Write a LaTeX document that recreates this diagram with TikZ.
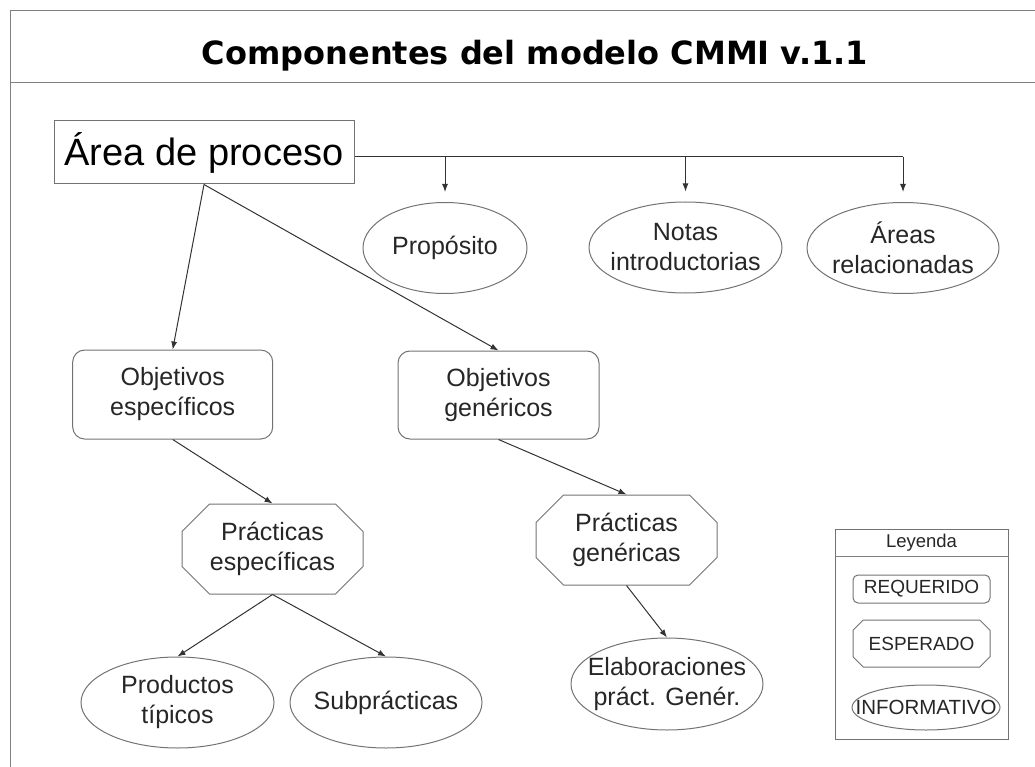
\documentclass[tikz,border=0pt]{standalone}
\usepackage{fontspec}
\setmainfont{Liberation Sans}
\newfontfamily\titlefont{DejaVu Sans}
\usetikzlibrary{shapes.geometric,shapes.misc,arrows.meta}

\begin{document}
\begin{tikzpicture}
[x=1pt,y=-1pt]
\tikzset{frame/.style={draw=black!50,line width=1pt}}
\tikzset{txt/.style={align=center,text=black!85,font=\fontsize{25}{30}\selectfont}}
\tikzset{req/.style={txt,rectangle,rounded corners=12pt,draw=black!55,line width=1pt,inner sep=0pt}}
\tikzset{esp/.style={txt,chamfered rectangle,chamfered rectangle xsep=24pt,draw=black!55,line width=1pt,inner sep=0pt}}
\tikzset{inf/.style={ellipse,draw=black!55,line width=1pt,inner sep=0pt}}
\tikzset{conn/.style={draw=black!80,line width=1pt,-{Latex[length=8pt,width=6pt]}}}
\useasboundingbox (0,0) rectangle (1035,767);

% marco y titulo
\draw [frame] (1035,11) -- (10,11) -- (10,767);
\draw [frame] (10,83) -- (1035,83);
\node [anchor=base,font=\titlefont\bfseries\fontsize{32}{38}\selectfont] (title) at (535,65) {Componentes del modelo CMMI v.1.1};

\node [draw=black!55,line width=1pt,inner sep=0pt,minimum width=300pt,minimum height=63pt,font=\fontsize{38}{44}\selectfont] (area) at (204,152.5) {Área de proceso};

\node [inf,minimum width=164pt,minimum height=91pt,label={[txt]center:Propósito}] (proposito) at (445,248) {};
\node [inf,minimum width=193pt,minimum height=91pt,label={[txt]center:Notas\\introductorias}] (notas) at (685.5,247.5) {};
\node [inf,minimum width=192pt,minimum height=91pt,label={[txt]center:Áreas\\relacionadas}] (areas) at (903,248) {};

\node [req,minimum width=200pt,minimum height=89pt] (objesp) at (172.7,394.5) {Objetivos\\específicos};
\node [req,minimum width=201pt,minimum height=88pt] (objgen) at (498.5,395) {Objetivos\\genéricos};

\node [esp,minimum width=181pt,minimum height=90pt] (pracesp) at (272.5,549) {Prácticas\\específicas};
\node [esp,minimum width=181pt,minimum height=90pt] (pracgen) at (626.5,540) {Prácticas\\genéricas};

\node [inf,minimum width=193pt,minimum height=91pt,label={[txt]center:Productos\\típicos}] (productos) at (177.5,702.5) {};
\node [inf,minimum width=192pt,minimum height=91pt,label={[txt]center:Subprácticas}] (subprac) at (386,702.5) {};
\node [inf,minimum width=192pt,minimum height=92pt,label={[txt]center:Elaboraciones\\práct. Genér.}] (elab) at (667,684) {};

% conexiones
\draw [frame,draw=black!80] ([yshift=-4.5pt]area.east) -- ([yshift=-4.5pt]area.east -| areas.north);
\foreach \to in {proposito,notas,areas}
	\draw [conn] ([yshift=-4.5pt]area.east -| \to.north) -- ([yshift=10pt]\to.north);
\foreach \to in {objesp,objgen}
	\draw [conn] (area.south) -- (\to.north);
\foreach \from/\to in {objesp/pracesp,objgen/pracgen,pracgen/elab,pracesp/productos,pracesp/subprac}
	\draw [conn] (\from.south) -- (\to.north);

% leyenda
\node [draw=black!55,line width=1pt,inner sep=0pt,minimum width=173pt,minimum height=210pt] (legend) at (921.5,634) {};
\draw [frame] ([yshift=-28pt]legend.north west) -- ([yshift=-28pt]legend.north east);
\node [txt,font=\fontsize{18.5}{22}\selectfont] (leyenda) at (921.5,543) {Leyenda};
\node [req,rounded corners=5pt,minimum width=137pt,minimum height=28pt,font=\fontsize{19}{23}\selectfont] (lreq) at (921.5,589) {REQUERIDO};
\node [esp,chamfered rectangle xsep=12pt,minimum width=137pt,minimum height=47pt,font=\fontsize{19}{23}\selectfont] (lesp) at (921.5,643.5) {ESPERADO};
\node [inf,minimum width=148pt,minimum height=45pt,label={[txt,font=\fontsize{20.5}{24}\selectfont]center:INFORMATIVO}] (linf) at (926,707.5) {};

\end{tikzpicture}
\end{document}
